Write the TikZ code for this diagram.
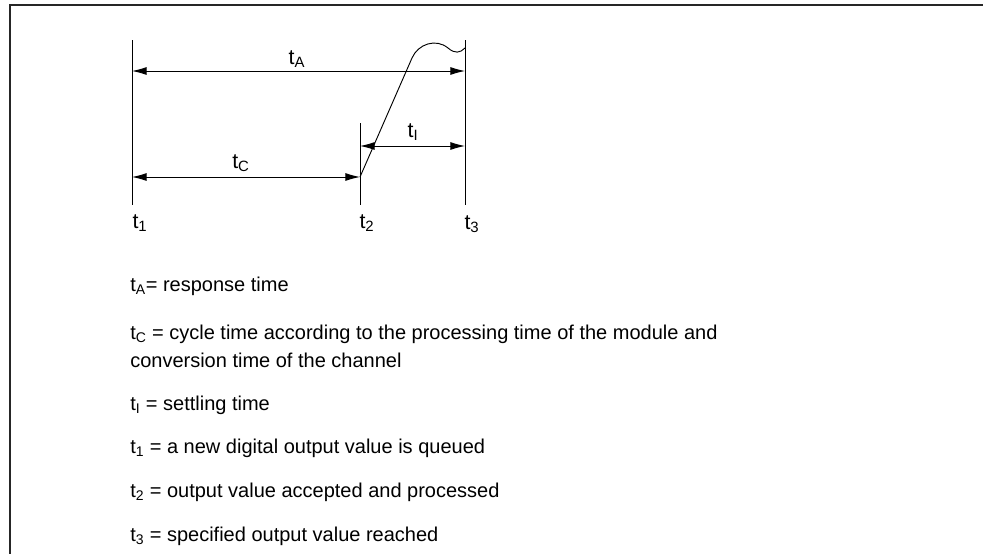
\documentclass[tikz,border=0pt]{standalone}
\usepackage{fontspec}
\setmainfont{Liberation Sans}
\usepackage{tikz}
\usetikzlibrary{positioning,arrows.meta,calc}
\tikzset{
  frameline/.style={line width=1.5pt,black!85},
  mark line/.style={line width=0.7pt},
  dim/.style={{Latex[length=11pt,width=6pt]}-{Latex[length=11pt,width=6pt]},line width=0.7pt},
  curveline/.style={line width=0.7pt},
  tlabel/.style={inner sep=1pt,font=\fontsize{16}{19}\selectfont},
  legend/.style={anchor=west,inner sep=0pt,align=left,font=\fontsize{15}{21}\selectfont}
}

\begin{document}
\begin{tikzpicture}[x=0.75pt,y=-0.75pt]
  \useasboundingbox (0,0) rectangle (983,554);
  % frame
  \draw[frameline] (10,556) -- (10,5) -- (985,5);

  % time marks
  \coordinate (m1top) at (132,40);
  \coordinate (m1bot) at (132,205);
  \coordinate (m2top) at (360,123);
  \coordinate (m2bot) at (360,205);
  \coordinate (m3top) at (465,40);
  \coordinate (m3bot) at (465,205);
  \draw[mark line] (m1top) -- (m1bot);
  \draw[mark line] (m2top) -- (m2bot);
  \draw[mark line] (m3top) -- (m3bot);
  \node[tlabel] (t1) at (140,223) {t\textsubscript{1}};
  \node[tlabel] (t2) at (367,223) {t\textsubscript{2}};
  \node[tlabel] (t3) at (472,224) {t\textsubscript{3}};

  % dimension arrows
  \coordinate (aA1) at (132,71);
  \coordinate (aA3) at (465,71);
  \coordinate (aC1) at (132,177);
  \coordinate (aC2) at (360,177);
  \coordinate (aI2) at (360,146);
  \coordinate (aI3) at (465,146);
  \draw[dim] (aA1) -- (aA3);
  \draw[dim] (aC1) -- (aC2);
  \draw[dim] (aI2) -- (aI3);
  \node[tlabel] (tA) at (297,59) {t\textsubscript{A}};
  \node[tlabel] (tC) at (241,163) {t\textsubscript{C}};
  \node[tlabel] (tI) at (413,132) {t\textsubscript{I}};

  % output signal
  \coordinate (rise) at (412,58);
  \draw[curveline] (aC2) -- (rise)
    .. controls (418,44) and (436,38) .. (448,48)
    .. controls (455,54) and (460,53) .. (465,48);

  % legend
  \node[legend] (lA) at (130,286) {t\textsubscript{A}= response time};
  \node[legend] (lC) at (130,346) {t\textsubscript{C} = cycle time according to the processing time of the module and\\conversion time of the channel};
  \node[legend] (lI) at (130,405) {t\textsubscript{I} = settling time};
  \node[legend] (l1) at (130,448) {t\textsubscript{1} = a new digital output value is queued};
  \node[legend] (l2) at (130,492) {t\textsubscript{2} = output value accepted and processed};
  \node[legend] (l3) at (130,536) {t\textsubscript{3} = specified output value reached};
\end{tikzpicture}
\end{document}
